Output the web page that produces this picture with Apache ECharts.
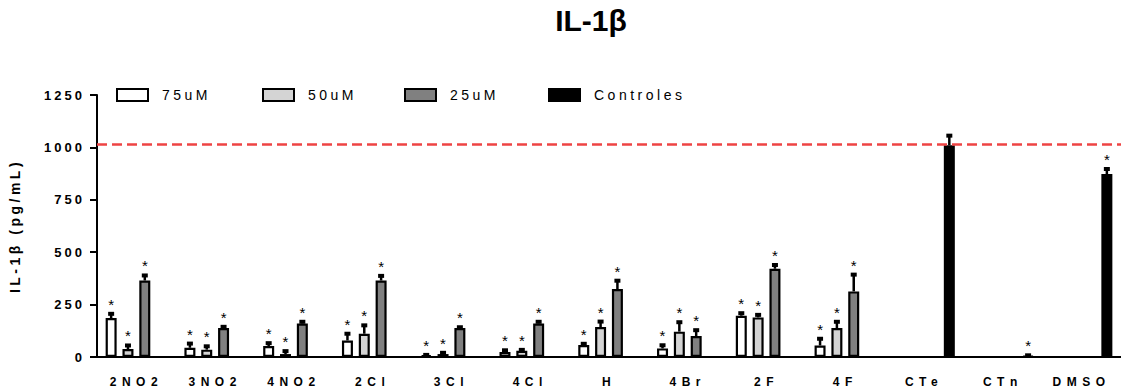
<!DOCTYPE html>
<html>
<head>
<meta charset="utf-8">
<script src="https://cdn.jsdelivr.net/npm/echarts@6/dist/echarts.min.js"></script>
<style>
  html, body { margin: 0; padding: 0; background: #fff; }
  #main { width: 1121px; height: 391px; }
  /* the original uses wide letter spacing on axis and legend texts */
  #main text[style*="12px"] { letter-spacing: 5.5px; }
  #main text[style*="13px"] { letter-spacing: 3px; }
  #main text[style*="14px"] { letter-spacing: 3.5px; }
</style>
</head>
<body>
<div id="main"></div>
<script>
const categories = ['2NO2', '3NO2', '4NO2', '2Cl', '3Cl', '4Cl', 'H', '4Br', '2F', '4F', 'CTe', 'CTn', 'DMSO']
const uM75 = [186, 44, 52, 79, 8, 24, 57, 41, 197, 55, null, null, null]
const uM75Err = [20, 20, 14, 32, 2, 8, 6, 15, 12, 32, null, null, null]
const uM50 = [38, 35, 14, 111, 14, 30, 143, 121, 189, 138, null, null, null]
const uM50Err = [17, 16, 14, 40, 6, 4, 26, 45, 12, 30, null, null, null]
const uM25 = [365, 138, 160, 365, 138, 160, 324, 100, 421, 313, null, null, null]
const uM25Err = [24, 6, 8, 22, 4, 8, 40, 28, 18, 80, null, null, null]
const controles = [null, null, null, null, null, null, null, null, null, null, 1010, 5, 873]
const controlesErr = [null, null, null, null, null, null, null, null, null, null, 46, 3, 24]
const controlesStar = [false, false, false, false, false, false, false, false, false, false, false, true, true]
const yTicks = [0, 250, 500, 750, 1000, 1250]
const refLine = 1015

const BAR_W = 11
const BAR_GAP = 0.53
const step = BAR_W * (1 + BAR_GAP)

const groups = [
  { name: '75uM', values: uM75, errs: uM75Err, color: '#ffffff', legendX: 111 },
  { name: '50uM', values: uM50, errs: uM50Err, color: '#d4d4d4', legendX: 257 },
  { name: '25uM', values: uM25, errs: uM25Err, color: '#808080', legendX: 399 },
  { name: 'Controles', values: controles, errs: controlesErr, color: '#000000', legendX: 543 }
]

// error bar rows: [category, value, err, slot, star]
const errRows = []
groups.forEach((g, slot) => {
  g.values.forEach((v, i) => {
    if (v == null) return
    const star = slot === 3 ? controlesStar[i] : true
    errRows.push([i, v, g.errs[i], slot, star ? 1 : 0])
  })
})

const chart = echarts.init(document.getElementById('main'), null, { renderer: 'svg' })

const barSeries = groups.map((g, idx) => ({
  name: g.name,
  type: 'bar',
  data: g.values,
  barWidth: BAR_W,
  barGap: (BAR_GAP * 100) + '%',
  itemStyle: { color: g.color, borderColor: '#000', borderWidth: 2.2 },
  markLine: idx === 3 ? {
    silent: true,
    symbol: ['none', 'none'],
    label: { show: false },
    lineStyle: { color: '#ee4444', type: [10, 5], width: 2.5 },
    data: [{ yAxis: refLine }]
  } : undefined
}))

chart.setOption({
  animation: false,
  title: {
    text: 'IL-1β',
    left: 586,
    top: 0,
    textAlign: 'center',
    textStyle: { fontFamily: 'Liberation Sans', fontSize: 30, fontWeight: 'bold', color: '#000' }
  },
  legend: groups.map(g => ({
    data: [g.name],
    left: g.legendX,
    top: 83,
    itemWidth: 31,
    itemHeight: 12,
    itemGap: 0,
    icon: 'rect',
    selectedMode: false,
    textStyle: { fontFamily: 'Liberation Sans', fontSize: 14, color: '#000', padding: [0, 0, 0, 9] }
  })),
  grid: { left: 95, right: 0, top: 95, bottom: 34, containLabel: false },
  xAxis: {
    type: 'category',
    data: categories,
    axisLine: { lineStyle: { color: '#000', width: 2 } },
    axisTick: { alignWithLabel: true, length: 7, lineStyle: { color: '#000', width: 2 } },
    axisLabel: { fontFamily: 'Liberation Sans', fontSize: 12, fontWeight: 'bold', color: '#000', margin: 19 }
  },
  yAxis: {
    type: 'value',
    min: yTicks[0],
    max: yTicks[yTicks.length - 1],
    interval: 250,
    name: 'IL-1β (pg/mL)',
    nameLocation: 'middle',
    nameRotate: 90,
    nameGap: 75,
    nameTextStyle: { fontFamily: 'Liberation Sans', fontSize: 14, fontWeight: 'bold', color: '#000' },
    axisLine: { show: true, lineStyle: { color: '#000', width: 2 } },
    axisTick: { show: true, length: 7, lineStyle: { color: '#000', width: 2 } },
    axisLabel: {
      fontFamily: 'Liberation Sans', fontSize: 13, fontWeight: 'bold', color: '#000', margin: 12,
      formatter: v => String(v)
    },
    splitLine: { show: false }
  },
  series: barSeries.concat([{
    type: 'custom',
    data: errRows,
    encode: { x: 0, y: 1 },
    z: 3,
    renderItem(params, api) {
      const cat = api.value(0)
      const val = api.value(1)
      const err = api.value(2)
      const slot = api.value(3)
      const star = api.value(4)
      const base = api.coord([cat, val])
      const top = api.coord([cat, val + err])
      const x = base[0] + (slot - 1.5) * step
      const children = [
        { type: 'line', shape: { x1: x, y1: base[1], x2: x, y2: top[1] }, style: { stroke: '#000', lineWidth: 2.5 } },
        { type: 'line', shape: { x1: x - 3, y1: top[1], x2: x + 3, y2: top[1] }, style: { stroke: '#000', lineWidth: 4 } }
      ]
      if (star) {
        children.push({
          type: 'text',
          style: {
            text: '*', x: x, y: top[1] - 2,
            align: 'center', verticalAlign: 'bottom',
            fontFamily: 'Liberation Sans', fontSize: 15, fill: '#000'
          }
        })
      }
      return { type: 'group', children }
    }
  }])
})
</script>
</body>
</html>
